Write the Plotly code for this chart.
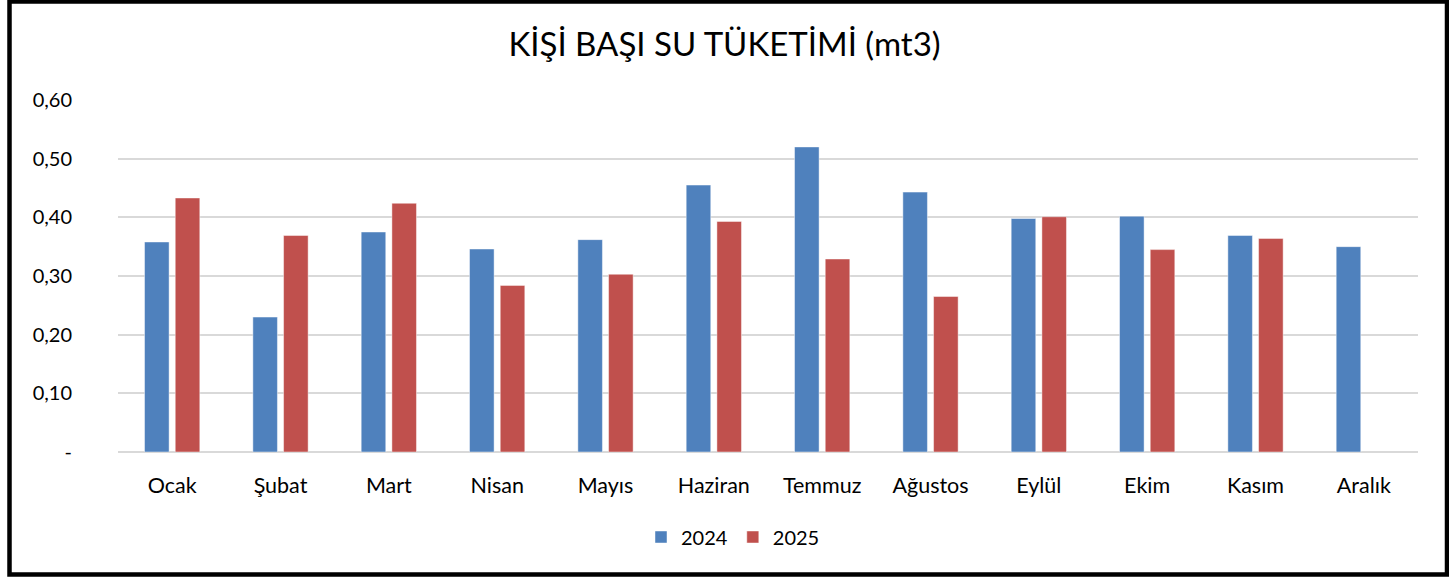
import plotly.graph_objects as go

months = ["Ocak", "Şubat", "Mart", "Nisan", "Mayıs", "Haziran", "Temmuz",
          "Ağustos", "Eylül", "Ekim", "Kasım", "Aralık"]
values_2024 = [0.358, 0.230, 0.375, 0.346, 0.362, 0.455, 0.520, 0.443, 0.398, 0.402, 0.369, 0.350]
values_2025 = [0.433, 0.369, 0.424, 0.284, 0.303, 0.393, 0.329, 0.265, 0.401, 0.345, 0.364, None]
tick_vals = [0, 0.1, 0.2, 0.3, 0.4, 0.5, 0.6]
tick_text = ["-", "0,10", "0,20", "0,30", "0,40", "0,50", "0,60"]
title_text = "KİŞİ BAŞI SU TÜKETİMİ (mt3)"

FONT = "Lato"

fig = go.Figure()
fig.add_trace(go.Bar(x=months, y=values_2024, name="2024",
                     marker=dict(color="#4F81BD", line=dict(color="rgba(255,255,255,0.45)", width=1))))
fig.add_trace(go.Bar(x=months, y=values_2025, name="2025",
                     marker=dict(color="#C0504D", line=dict(color="rgba(255,255,255,0.45)", width=1))))

W, H = 1449, 577
L, R, T, B = 118, 31, 100, 125
pw, ph = W - L - R, H - T - B

def px_x(x):
    return (x - L) / pw

def px_y(y):
    return (H - B - y) / ph

fig.update_layout(
    width=W, height=H,
    margin=dict(l=L, r=R, t=T, b=B, autoexpand=False),
    paper_bgcolor="white", plot_bgcolor="white",
    barmode="group", bargap=0.433, bargroupgap=0.2,
    font=dict(family=FONT, size=20, color="#000000"),
    title=dict(text=title_text, x=0.5, xref="container", xanchor="center",
               y=1 - 44 / H, yref="container", yanchor="middle",
               font=dict(family=FONT, size=33, color="#000000")),
    showlegend=True,
    legend=dict(orientation="h", x=px_x(733), xanchor="center", xref="paper",
                y=px_y(537), yanchor="middle", yref="paper", font=dict(size=20),
                tracegroupgap=0),
    xaxis=dict(showgrid=False, showline=False, ticks="", ticklabelstandoff=18,
               tickfont=dict(size=21.5), tickangle=0, automargin=False),
    yaxis=dict(range=[0, 0.6], tickvals=tick_vals, ticktext=tick_text,
               showgrid=True, gridcolor="#D9D9D9", gridwidth=1.5,
               zeroline=True, zerolinecolor="#D9D9D9", zerolinewidth=1.5,
               showline=False, ticks="", ticklabelstandoff=45,
               tickfont=dict(size=20), automargin=False),
    shapes=[dict(type="rect", xref="paper", yref="paper",
                 x0=px_x(9.5), x1=px_x(1447), y0=px_y(574.5), y1=px_y(1.5),
                 line=dict(color="black", width=4.5), fillcolor="rgba(0,0,0,0)", layer="above")],
)

fig.write_html("out.html", config={"displayModeBar": False},
               post_script="document.body.style.margin='0';document.body.style.padding='0';")
